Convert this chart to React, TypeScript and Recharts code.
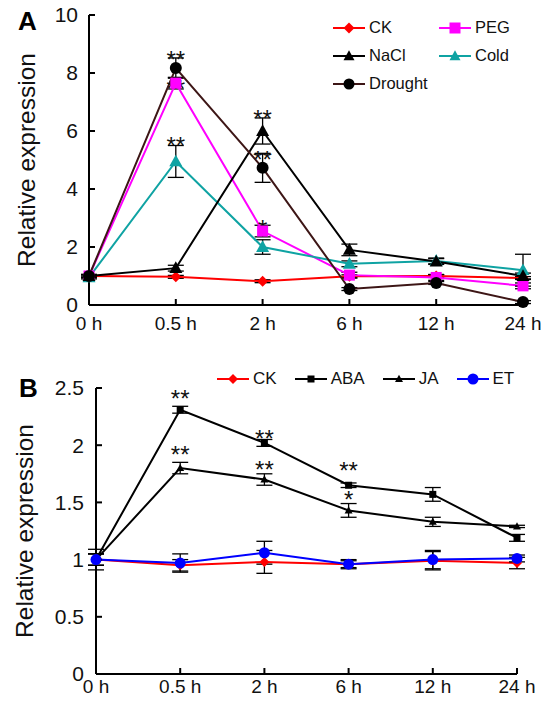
import React from 'react';
import { LineChart, Line, XAxis, YAxis, ErrorBar, ReferenceDot } from 'recharts';

const FONT = '"Liberation Sans", Arial, Helvetica, sans-serif';

const hours = ['0 h', '0.5 h', '2 h', '6 h', '12 h', '24 h'];

// panel A: abiotic stress
const ckA = [1.0, 0.97, 0.82, 0.99, 1.0, 0.93];
const ckAErr = [0.05, 0.05, 0.05, 0.05, 0.05, 0.05];
const pegA = [1.0, 7.65, 2.55, 1.03, 0.95, 0.66];
const pegAErr = [0.05, 0.2, 0.2, 0.1, 0.1, 0.1];
const naclA = [1.0, 1.27, 6.0, 1.9, 1.5, 1.0];
const naclAErr = [0.05, 0.1, 0.45, 0.2, 0.1, 0.1];
const coldA = [0.95, 4.95, 2.0, 1.42, 1.52, 1.2];
const coldAErr = [0.05, 0.55, 0.25, 0.1, 0.1, 0.55];
const droughtA = [1.0, 8.17, 4.73, 0.55, 0.76, 0.1];
const droughtAErr = [0.05, 0.35, 0.5, 0.05, 0.05, 0.05];
const ticksA = [0, 2, 4, 6, 8, 10];

// significance marks, level in data units
const starsA = [
  { at: '0.5 h', level: 8.65, mark: '**' },
  { at: '0.5 h', level: 7.65, mark: '**' },
  { at: '0.5 h', level: 5.69, mark: '**' },
  { at: '2 h', level: 6.62, mark: '**' },
  { at: '2 h', level: 5.2, mark: '**' },
  { at: '2 h', level: 2.83, mark: '*' },
];

// panel B: hormones
const ckB = [1.0, 0.95, 0.98, 0.96, 0.99, 0.97];
const ckBErr = [0.09, 0.05, 0.1, 0.04, 0.08, 0.05];
const abaB = [1.0, 2.31, 2.02, 1.65, 1.57, 1.19];
const abaBErr = [0.05, 0.03, 0.03, 0.02, 0.06, 0.03];
const jaB = [1.0, 1.8, 1.7, 1.43, 1.33, 1.29];
const jaBErr = [0.05, 0.05, 0.05, 0.06, 0.04, 0.01];
const etB = [1.0, 0.97, 1.06, 0.96, 1.0, 1.01];
const etBErr = [0.05, 0.08, 0.1, 0.03, 0.08, 0.03];
const ticksB = [0, 0.5, 1, 1.5, 2, 2.5];

const starsB = [
  { at: '0.5 h', level: 2.46, mark: '**' },
  { at: '0.5 h', level: 1.97, mark: '**' },
  { at: '2 h', level: 2.11, mark: '**' },
  { at: '2 h', level: 1.84, mark: '**' },
  { at: '6 h', level: 1.83, mark: '**' },
  { at: '6 h', level: 1.57, mark: '*' },
];

type Shape = 'circle' | 'square' | 'diamond' | 'triangle';

type Series = {
  key: string;
  name: string;
  values: number[];
  errors: number[];
  color: string;
  markColor: string;
  shape: Shape;
  size: number;
};

const seriesA: Series[] = [
  { key: 'ck', name: 'CK', values: ckA, errors: ckAErr, color: '#ff0000', markColor: '#ff0000', shape: 'diamond', size: 11 },
  { key: 'peg', name: 'PEG', values: pegA, errors: pegAErr, color: '#ff00ff', markColor: '#ff00ff', shape: 'square', size: 11 },
  { key: 'cold', name: 'Cold', values: coldA, errors: coldAErr, color: '#0fa3a3', markColor: '#0fa3a3', shape: 'triangle', size: 13 },
  { key: 'nacl', name: 'NaCl', values: naclA, errors: naclAErr, color: '#000000', markColor: '#000000', shape: 'triangle', size: 13 },
  { key: 'drought', name: 'Drought', values: droughtA, errors: droughtAErr, color: '#3d1616', markColor: '#000000', shape: 'circle', size: 12 },
];

const seriesB: Series[] = [
  { key: 'ck', name: 'CK', values: ckB, errors: ckBErr, color: '#ff0000', markColor: '#ff0000', shape: 'diamond', size: 10 },
  { key: 'aba', name: 'ABA', values: abaB, errors: abaBErr, color: '#000000', markColor: '#000000', shape: 'square', size: 7 },
  { key: 'ja', name: 'JA', values: jaB, errors: jaBErr, color: '#000000', markColor: '#000000', shape: 'triangle', size: 8 },
  { key: 'et', name: 'ET', values: etB, errors: etBErr, color: '#0000ff', markColor: '#0000ff', shape: 'circle', size: 11 },
];

function buildRows(series: Series[]) {
  return hours.map((h, i) => {
    const row: Record<string, string | number> = { hour: h };
    series.forEach((s) => {
      row[s.key] = s.values[i];
      row[s.key + 'Err'] = s.errors[i];
    });
    return row;
  });
}

const rowsA = buildRows(seriesA);
const rowsB = buildRows(seriesB);

function Marker({ shape, cx, cy, size, fill }: { shape: Shape; cx: number; cy: number; size: number; fill: string }) {
  const h = size / 2;
  if (shape === 'circle') return <circle cx={cx} cy={cy} r={h} fill={fill} />;
  if (shape === 'square') return <rect x={cx - h} y={cy - h} width={size} height={size} fill={fill} />;
  if (shape === 'diamond')
    return <polygon points={`${cx},${cy - h} ${cx + h},${cy} ${cx},${cy + h} ${cx - h},${cy}`} fill={fill} />;
  return <polygon points={`${cx},${cy - h * 1.05} ${cx + h},${cy + h * 0.75} ${cx - h},${cy + h * 0.75}`} fill={fill} />;
}

function Star({ cx, cy, mark }: { cx?: number; cy?: number; mark: string }) {
  if (cx == null || cy == null) return <g />;
  return (
    <text x={cx} y={cy + 14} textAnchor="middle" fontSize={24} fontFamily={FONT} fill="#111">
      {mark}
    </text>
  );
}

function LegendIcon({ s, w }: { s: Series; w: number }) {
  return (
    <svg width={w} height={16} style={{ display: 'block' }}>
      <line x1={0} y1={8} x2={w} y2={8} stroke={s.color} strokeWidth={2} />
      <Marker shape={s.shape} cx={w / 2} cy={8} size={Math.min(s.size, 11)} fill={s.markColor} />
    </svg>
  );
}

function LegendItem({ s, w, fontSize }: { s: Series; w: number; fontSize: number }) {
  return (
    <div style={{ display: 'flex', alignItems: 'center', gap: 4, fontSize, fontFamily: FONT, color: '#111' }}>
      <LegendIcon s={s} w={w} />
      <span>{s.name}</span>
    </div>
  );
}

const axisStroke = { stroke: '#000', strokeWidth: 2 };
const xTickStyle = { fontSize: 19, fontFamily: FONT, fill: '#111' };
const yTickStyle = { fontSize: 21, fontFamily: FONT, fill: '#111' };
const labelStyle = { textAnchor: 'middle', fontSize: 24.5, fontFamily: FONT, fill: '#111' };

function renderLines(series: Series[]) {
  return series.map((s) => (
    <Line
      key={s.key}
      dataKey={s.key}
      stroke={s.color}
      strokeWidth={2}
      isAnimationActive={false}
      dot={(p: any) => (
        <Marker key={`${s.key}-${p.index}`} shape={s.shape} cx={p.cx} cy={p.cy} size={s.size} fill={s.markColor} />
      )}
      activeDot={false}
    >
      <ErrorBar dataKey={s.key + 'Err'} width={8} stroke="#000" strokeWidth={1.3} direction="y" />
    </Line>
  ));
}

export default function App() {
  const byKeyA = Object.fromEntries(seriesA.map((s) => [s.key, s]));
  return (
    <div style={{ position: 'absolute', left: 0, top: 0, width: 552, height: 703, background: '#fff', fontFamily: FONT }}>
      <div style={{ position: 'absolute', left: 0, top: 0 }}>
        <LineChart width={552} height={340} data={rowsA} margin={{ top: 15, right: 29, bottom: 0, left: 0 }}>
          <XAxis
            dataKey="hour"
            height={35}
            interval={0}
            padding={{ left: 0, right: 0 }}
            axisLine={axisStroke}
            tickLine={axisStroke}
            tickSize={-6}
            tickMargin={18}
            tick={xTickStyle}
          />
          <YAxis
            domain={[0, 10]}
            ticks={ticksA}
            width={89}
            axisLine={axisStroke}
            tickLine={axisStroke}
            tickSize={-6}
            tickMargin={17}
            tick={yTickStyle}
            label={{ value: 'Relative expression', angle: -90, position: 'insideLeft', offset: 26, style: labelStyle }}
          />
          {renderLines(seriesA)}
          {starsA.map((st, i) => (
            <ReferenceDot
              key={i}
              x={st.at}
              y={st.level}
              ifOverflow="visible"
              shape={(p: any) => <Star cx={p.cx} cy={p.cy} mark={st.mark} />}
            />
          ))}
        </LineChart>
      </div>
      <div style={{ position: 'absolute', left: 0, top: 340 }}>
        <LineChart width={552} height={363} data={rowsB} margin={{ top: 48, right: 35, bottom: 0, left: 0 }}>
          <XAxis
            dataKey="hour"
            height={29}
            interval={0}
            padding={{ left: 0, right: 0 }}
            axisLine={axisStroke}
            tickLine={axisStroke}
            tickSize={-6}
            tickMargin={12}
            tick={xTickStyle}
          />
          <YAxis
            domain={[0, 2.5]}
            ticks={ticksB}
            width={96}
            axisLine={axisStroke}
            tickLine={axisStroke}
            tickSize={-6}
            tickMargin={18}
            tick={yTickStyle}
            label={{ value: 'Relative expression', angle: -90, position: 'insideLeft', offset: 24, style: labelStyle }}
          />
          {renderLines(seriesB)}
          {starsB.map((st, i) => (
            <ReferenceDot
              key={i}
              x={st.at}
              y={st.level}
              ifOverflow="visible"
              shape={(p: any) => <Star cx={p.cx} cy={p.cy} mark={st.mark} />}
            />
          ))}
        </LineChart>
      </div>

      {/* panel letters */}
      <div style={{ position: 'absolute', left: 18, top: 6, fontSize: 26, fontWeight: 'bold', color: '#000' }}>A</div>
      <div style={{ position: 'absolute', left: 19, top: 373, fontSize: 26, fontWeight: 'bold', color: '#000' }}>B</div>

      {/* legend A, two columns */}
      <div
        style={{
          position: 'absolute',
          left: 333,
          top: 18,
          display: 'grid',
          gridTemplateColumns: '106px auto',
          rowGap: 9,
        }}
      >
        <LegendItem s={byKeyA.ck} w={32} fontSize={16.5} />
        <LegendItem s={byKeyA.peg} w={32} fontSize={16.5} />
        <LegendItem s={byKeyA.nacl} w={32} fontSize={16.5} />
        <LegendItem s={byKeyA.cold} w={32} fontSize={16.5} />
        <LegendItem s={byKeyA.drought} w={32} fontSize={16.5} />
      </div>

      {/* legend B, one row */}
      <div style={{ position: 'absolute', left: 217, top: 369, display: 'flex', gap: 18 }}>
        {seriesB.map((s) => (
          <LegendItem key={s.key} s={s} w={32} fontSize={17} />
        ))}
      </div>
    </div>
  );
}
